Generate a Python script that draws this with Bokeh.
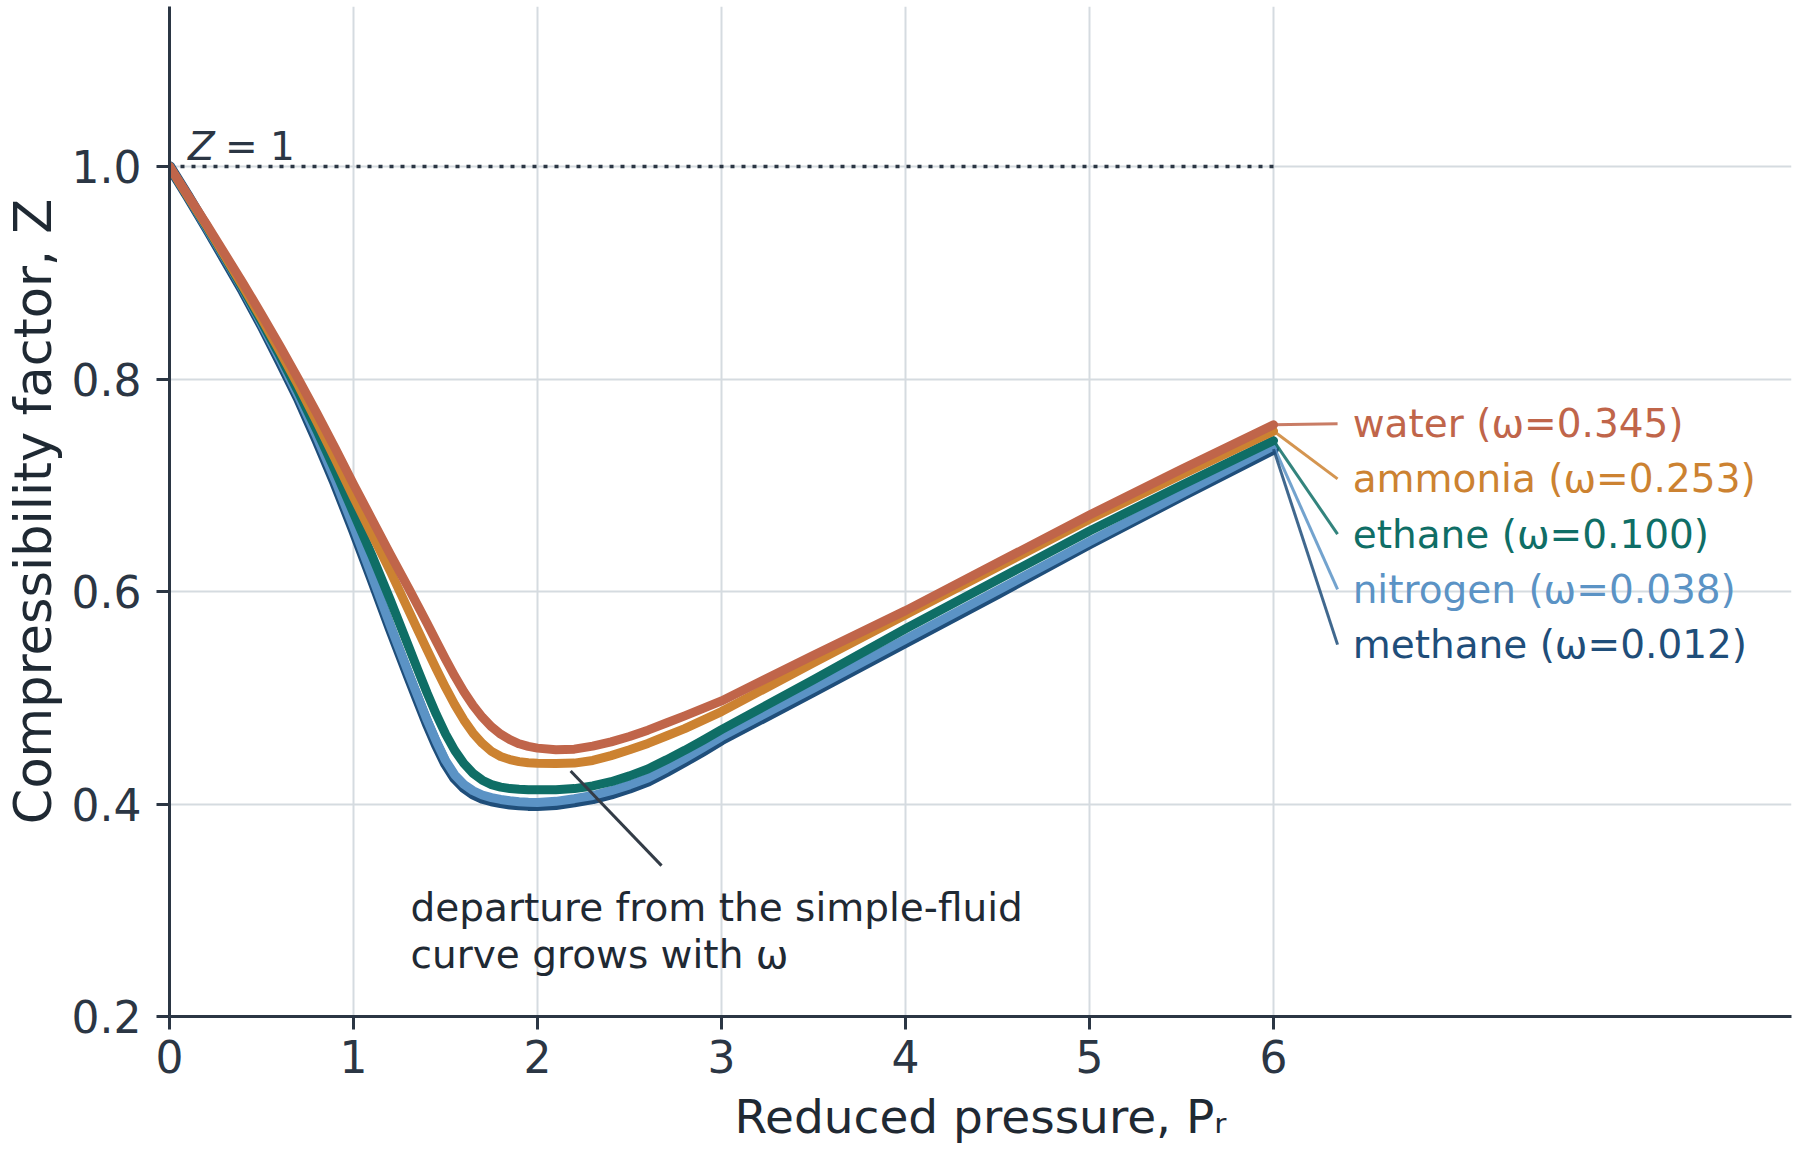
from bokeh.core.properties import value
from bokeh.embed import file_html
from bokeh.models import ColumnDataSource, FixedTicker, NumeralTickFormatter, Range1d
from bokeh.plotting import figure
from bokeh.resources import INLINE

# reduced pressure grid (denser round the minimum)
pr = [0.0, 0.1, 0.2, 0.3, 0.4, 0.5, 0.6, 0.7, 0.8, 0.9, 1.0, 1.1, 1.2, 1.3,
      1.35, 1.4, 1.45, 1.5, 1.55, 1.6, 1.65, 1.7, 1.75, 1.8, 1.85, 1.9, 1.95, 2.0,
      2.1, 2.2, 2.3, 2.4, 2.5, 2.6, 2.7, 2.8, 2.9, 3.0,
      3.5, 4.0, 4.5, 5.0, 5.5, 6.0]

z_water = [1.000, 0.973, 0.946, 0.918, 0.890, 0.861, 0.831, 0.800, 0.768, 0.735, 0.701, 0.668, 0.635, 0.603,
           0.5865, 0.570, 0.5531, 0.5364, 0.5204, 0.5057, 0.4927, 0.4817, 0.4727, 0.4657, 0.4605, 0.4567, 0.4542, 0.4526,
           0.4511, 0.4516, 0.4545, 0.4585, 0.4635, 0.4695, 0.4762, 0.483, 0.490, 0.497,
           0.540, 0.582, 0.627, 0.672, 0.715, 0.757]
z_ammonia = [1.000, 0.972, 0.945, 0.916, 0.887, 0.857, 0.826, 0.794, 0.760, 0.725, 0.689, 0.654, 0.619, 0.582,
             0.5635, 0.545, 0.5271, 0.5097, 0.4935, 0.479, 0.4667, 0.457, 0.4496, 0.4447, 0.4418, 0.4399, 0.4388, 0.4383,
             0.4381, 0.4385, 0.441, 0.4455, 0.451, 0.457, 0.464, 0.471, 0.479, 0.487,
             0.533, 0.578, 0.623, 0.668, 0.710, 0.751]
z_ethane = [1.000, 0.972, 0.944, 0.915, 0.885, 0.854, 0.822, 0.788, 0.752, 0.714, 0.674, 0.634, 0.592, 0.548,
            0.526, 0.5045, 0.4843, 0.466, 0.4505, 0.4381, 0.4289, 0.4224, 0.4183, 0.4159, 0.4145, 0.4138, 0.4134, 0.4133,
            0.4135, 0.4145, 0.417, 0.421, 0.4265, 0.433, 0.4415, 0.4505, 0.460, 0.470,
            0.517, 0.565, 0.611, 0.657, 0.700, 0.742]
z_nitrogen = [1.000, 0.972, 0.943, 0.914, 0.884, 0.852, 0.819, 0.784, 0.746, 0.705, 0.661, 0.615, 0.568, 0.523,
              0.501, 0.479, 0.459, 0.441, 0.4275, 0.4185, 0.4125, 0.4085, 0.406, 0.4043, 0.403, 0.4022, 0.4017, 0.4015,
              0.4025, 0.405, 0.408, 0.4125, 0.418, 0.4245, 0.4335, 0.443, 0.453, 0.4635,
              0.509, 0.555, 0.601, 0.647, 0.692, 0.737]
z_methane = [1.000, 0.972, 0.943, 0.913, 0.883, 0.851, 0.817, 0.782, 0.743, 0.702, 0.658, 0.612, 0.565, 0.520,
             0.498, 0.476, 0.456, 0.438, 0.4245, 0.4155, 0.4095, 0.4055, 0.403, 0.4013, 0.400, 0.3992, 0.3987, 0.3985,
             0.3995, 0.402, 0.405, 0.4095, 0.415, 0.4215, 0.4305, 0.440, 0.450, 0.4605,
             0.506, 0.552, 0.598, 0.645, 0.690, 0.734]

fluids = ["water", "ammonia", "ethane", "nitrogen", "methane"]
omegas = ["0.345", "0.253", "0.100", "0.038", "0.012"]
series = [z_water, z_ammonia, z_ethane, z_nitrogen, z_methane]

ideal_pr = [0.0, 6.0]
ideal_z = [1.0, 1.0]

x_ticks = [0, 1, 2, 3, 4, 5, 6]
y_ticks = [0.2, 0.4, 0.6, 0.8, 1.0]

colors = ["#c0654a", "#cc8231", "#0f6e66", "#5b93c5", "#1f4e7a"]
widths = [9, 9, 9, 9, 11]
INK = "#2b3644"
DARK = "#1f2933"
FONT = "DejaVu Sans"

p = figure(width=1796, height=1158,
           x_range=Range1d(0, 8.815), y_range=Range1d(0.2, 1.1506),
           output_backend="svg", toolbar_location=None,
           min_border_left=168, min_border_right=5, min_border_top=6, min_border_bottom=142,
           background_fill_color="white", border_fill_color="white")
p.outline_line_color = None

# axes
p.xaxis.ticker = FixedTicker(ticks=x_ticks)
p.yaxis.ticker = FixedTicker(ticks=y_ticks)
p.xaxis.formatter = NumeralTickFormatter(format="0")
p.yaxis.formatter = NumeralTickFormatter(format="0.0")
for ax in (p.xaxis, p.yaxis):
    ax.axis_line_color = INK
    ax.axis_line_width = 3
    ax.major_tick_line_color = INK
    ax.major_tick_line_width = 3
    ax.major_tick_out = 13
    ax.major_tick_in = 0
    ax.minor_tick_line_color = None
    ax.major_label_text_font = FONT
    ax.major_label_text_font_size = "44px"
    ax.major_label_text_color = INK
    ax.axis_label_text_font = FONT
    ax.axis_label_text_font_style = "normal"
    ax.axis_label_text_color = DARK
p.xaxis.axis_label_text_font_size = "47px"
p.yaxis.axis_label_text_font_size = "51px"
p.xaxis.major_label_standoff = 10
p.yaxis.major_label_standoff = 15
p.xaxis.axis_label = "Reduced pressure, Pᵣ"
p.yaxis.axis_label = "Compressibility factor, Z"
p.xaxis.axis_label_standoff = 13
p.yaxis.axis_label_standoff = 6

p.grid.grid_line_color = "#d5dbe0"
p.grid.grid_line_width = 2

# Z = 1 reference
p.line(ideal_pr, ideal_z, line_color=INK, line_width=3.5, line_dash="4 7")
p.text(x=[0.1], y=[1.019], text=["Z"], text_font=value(FONT), text_font_size="39px",
       text_font_style="italic", text_color=INK, text_baseline="alphabetic")
p.text(x=[0.1], y=[1.019], text=["= 1"], x_offset=37, text_font=value(FONT), text_font_size="39px",
       text_color=INK, text_baseline="alphabetic")

# curves, methane first so water ends up on top
for z, c, w in reversed(list(zip(series, colors, widths))):
    p.line(pr, z, line_color=c, line_width=w, line_join="round", line_cap="round")

# direct labels with leaders
label_z = [0.758, 0.706, 0.654, 0.602, 0.550]
end_z = [z[-1] for z in series]
labels = ColumnDataSource(dict(
    x0=[pr[-1]] * 5, y0=end_z, x1=[6.348] * 5, y1=label_z, tx=[6.43] * 5,
    text=[f"{n} (ω={o})" for n, o in zip(fluids, omegas)], color=colors))
p.segment(x0="x0", y0="y0", x1="x1", y1="y1", line_color="color", line_width=3,
          line_alpha=0.85, source=labels)
p.text(x="tx", y="y1", text="text", text_color="color", text_font=value(FONT),
       text_font_size="39px", text_baseline="middle", source=labels)

# annotation
p.segment(x0=[2.674], y0=[0.342], x1=[2.18], y1=[0.431], line_color="#333c47", line_width=3)
p.text(x=[1.31, 1.31], y=[0.3026, 0.2584],
       text=["departure from the simple-fluid", "curve grows with ω"],
       text_font=value(FONT), text_font_size="39px", text_color=DARK,
       text_baseline="alphabetic")

open("out.html", "w").write(file_html(p, INLINE))
